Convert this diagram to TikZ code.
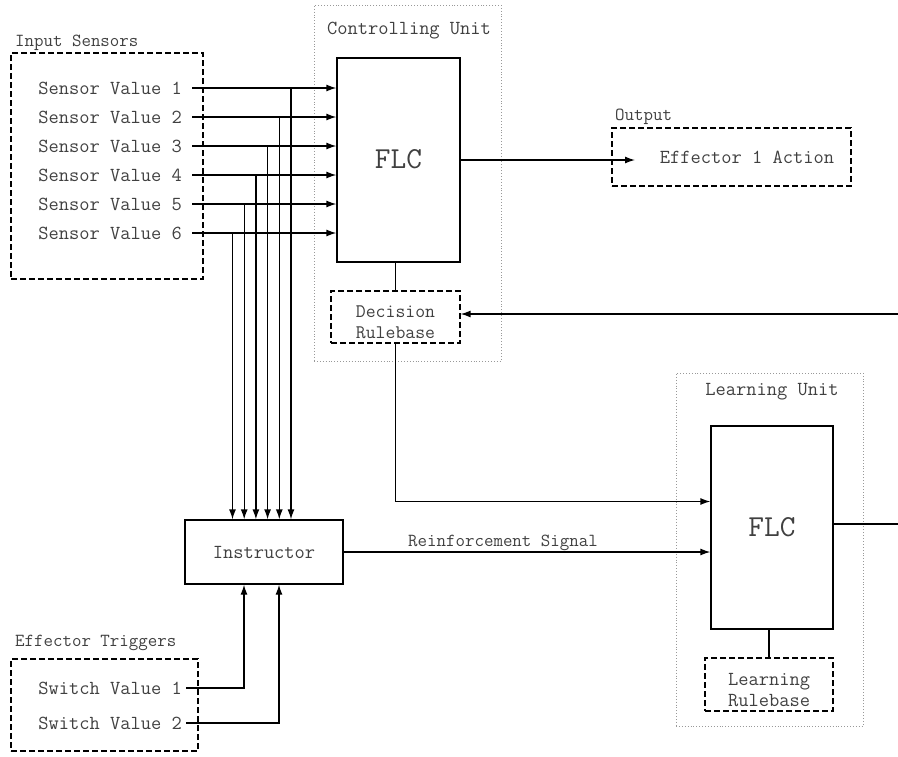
\documentclass[tikz,border=0pt]{standalone}
\usepackage{fontspec}
\usetikzlibrary{arrows.meta,positioning}
\tikzset{
    blockbox/.style={draw,line width=1.3pt,inner sep=0pt},
    groupbox/.style={draw,line width=1.2pt,dash pattern=on 6pt off 3pt,inner sep=0pt},
    unitbox/.style={draw=black!40,line width=0.9pt,dotted,inner sep=0pt},
    txt/.style={text=black!75,font=\ttfamily\fontsize{19.9}{23}\selectfont,inner sep=0pt},
    grouptitle/.style={text=black!75,font=\ttfamily\fontsize{18.4}{21}\selectfont,inner sep=0pt},
    flcfont/.style={text=black!75,font=\ttfamily\fontsize{30.5}{33}\selectfont},
    wire/.style={line width=1.3pt},
    arrow/.style={wire,-{Latex[length=10pt,width=7pt]}}
}
\begin{document}
\begin{tikzpicture}[x=1pt,y=-1pt]
    \useasboundingbox (0,0) rectangle (898,756);
    % units and groups
    \node[unitbox,minimum width=187,minimum height=356] (cu) at (407.5,183) {};
    \node[txt] (cutitle) at (409,31) {Controlling Unit};
    \node[unitbox,minimum width=187,minimum height=353] (lu) at (769.5,549.5) {};
    \node[txt] (lutitle) at (772,392) {Learning Unit};
    \node[groupbox,minimum width=192,minimum height=226] (insens) at (107,166) {};
    \node[grouptitle,anchor=west] (institle) at (15,43) {Input Sensors};
    \node[groupbox,minimum width=187,minimum height=92] (efftrig) at (104.5,705) {};
    \node[grouptitle,anchor=west] (efftitle) at (15,643) {Effector Triggers};
    \node[groupbox,minimum width=239,minimum height=58] (outbox) at (731.5,157) {};
    \node[grouptitle,anchor=west] (outtitle) at (615,117) {Output};
    \node[txt] (effact) at (747,157) {Effector 1 Action};
    % blocks
    \node[blockbox,flcfont,minimum width=123,minimum height=204] (flc) at (398.5,160) {\raisebox{3pt}{FLC}};
    \node[groupbox,txt,align=center,minimum width=129,minimum height=52,font=\ttfamily\fontsize{19.2}{21}\selectfont] (drb) at (395.5,317) {\rule{0pt}{22pt}Decision\\Rulebase};
    \node[blockbox,txt,minimum width=158,minimum height=64] (instr) at (264,552) {Instructor};
    \node[blockbox,flcfont,minimum width=122,minimum height=203] (lflc) at (772,527.5) {FLC};
    \node[groupbox,txt,align=center,minimum width=128,minimum height=53,font=\ttfamily\fontsize{19.9}{21}\selectfont] (lrb) at (769,684.5) {\rule{0pt}{23pt}Learning\\Rulebase};
    % sensor inputs
    \foreach \i/\y/\tx in {1/88/291,2/117/279.3,3/146/267.6,4/175/255.9,5/204/244.2,6/233/232.5}{
        \node[txt,anchor=east,inner xsep=10pt] (s\i) at (192,\y) {Sensor Value \i};
        \coordinate (tap\i) at (\tx,\y);
        \draw[arrow] (s\i.east) -- (s\i.east -| flc.west);
        \draw[arrow] (tap\i) -- (tap\i |- instr.north);
    }
    % switches
    \node[txt,anchor=east,inner xsep=4pt] (sw1) at (186,688) {Switch Value 1};
    \node[txt,anchor=east,inner xsep=4pt] (sw2) at (186,723) {Switch Value 2};
    \draw[arrow] (sw1.east) -| ([xshift=-20pt]instr.south);
    \draw[arrow] (sw2.east) -| ([xshift=15pt]instr.south);
    % connections
    \coordinate (outtip) at (635,160);
    \draw[arrow] (flc.east) -- (outtip);
    \draw[wire] (drb.north |- flc.south) -- (drb.north);
    \coordinate (fbin) at (898,314);
    \draw[arrow] (fbin) -- (fbin -| drb.east);
    \draw[arrow] (drb.south) |- ([yshift=26pt]lflc.west);
    \draw[arrow] (instr.east) -- (instr.east -| lflc.west);
    \node[grouptitle] (rsig) at (503,543) {Reinforcement Signal};
    \coordinate (lout) at (898,524);
    \draw[wire] (lflc.east |- lout) -- (lout);
    \draw[wire] (lrb.north |- lflc.south) -- (lrb.north);
\end{tikzpicture}
\end{document}
